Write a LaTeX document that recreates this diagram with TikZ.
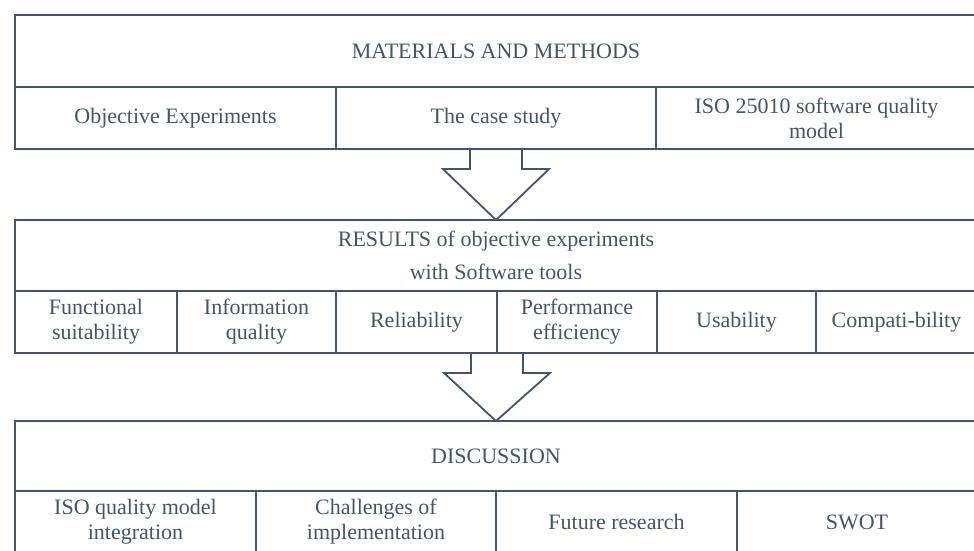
\documentclass[tikz,border=0pt]{standalone}
\usepackage{fontspec}
\setmainfont{Liberation Serif}
\usepackage{tikz}
\usetikzlibrary{positioning,calc}

\definecolor{slate}{HTML}{44546A}

% hollow block arrow hanging from one box down to the next
\newcommand{\blockarrow}[2]{%
  \draw[frame] ($(#1)+(-26,0)$) -- ++(0,20) -- ++(-27,0) -- (#2)
    -- ($(#1)+(53,20)$) -- ++(-27,0) -- ++(0,-20);
}

\begin{document}
\begin{tikzpicture}[x=1pt, y=-1pt,
    frame/.style={draw=slate, line width=1.8pt, line join=miter},
    head/.style={frame, text=slate, anchor=north west, inner sep=0pt, outer sep=0pt,
      minimum width=962pt, minimum height=72pt, align=center,
      font=\fontsize{22}{33}\selectfont},
    cell/.style={frame, text=slate, inner sep=0pt, outer sep=0pt, minimum height=62pt,
      align=center, font=\fontsize{22}{25}\selectfont},
  ]
  \useasboundingbox (0,0) rectangle (974,550);
  \clip (0,0) rectangle (974,550);

  % Materials and methods
  \node[head] (mm) at (15,15) {MATERIALS AND METHODS};
  \node[cell, minimum width=321pt, below=0pt of mm.south west, anchor=north west] (obj) {Objective Experiments};
  \node[cell, minimum width=320pt, right=0pt of obj] (case) {The case study};
  \node[cell, minimum width=321pt, right=0pt of case] (iso) {ISO 25010 software quality\\model};

  % Results
  \node[head, minimum height=71pt] (res) at (15,220) {RESULTS of objective experiments\\with Software tools};
  \node[cell, minimum width=162pt, below=0pt of res.south west, anchor=north west] (fs) {Functional\\suitability};
  \node[cell, minimum width=159pt, right=0pt of fs] (iq) {Information\\quality};
  \node[cell, minimum width=161pt, right=0pt of iq] (rel) {Reliability};
  \node[cell, minimum width=160pt, right=0pt of rel] (pe) {Performance\\efficiency};
  \node[cell, minimum width=159pt, right=0pt of pe] (us) {Usability};
  \node[cell, minimum width=161pt, right=0pt of us] (comp) {Compati-bility};

  % Discussion
  \node[head, minimum height=70pt] (disc) at (15,421) {DISCUSSION};
  \node[cell, minimum width=241pt, below=0pt of disc.south west, anchor=north west] (integ) {ISO quality model\\integration};
  \node[cell, minimum width=240pt, right=0pt of integ] (chal) {Challenges of\\implementation};
  \node[cell, minimum width=241pt, right=0pt of chal] (fut) {Future research};
  \node[cell, minimum width=240pt, right=0pt of fut] (swot) {SWOT};

  % Arrows between the stages
  \blockarrow{case.south}{res.north}
  \blockarrow{rel.south east}{disc.north}
\end{tikzpicture}
\end{document}
